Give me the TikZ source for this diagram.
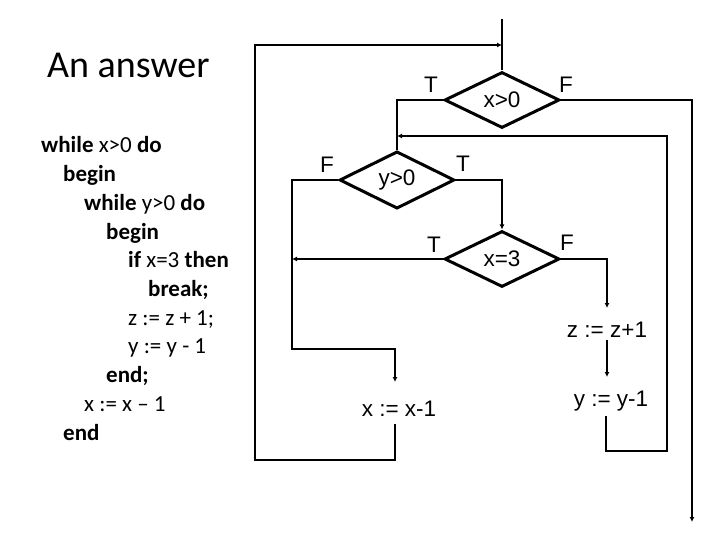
\documentclass[tikz,border=0pt]{standalone}
\usepackage{fontspec}
\setmainfont{Carlito}
\newfontfamily\lab{Liberation Sans}
\usetikzlibrary{shapes.geometric,arrows.meta}
\tikzset{
  dia/.style={diamond, draw, line width=3pt, inner sep=0pt, minimum width=115pt, minimum height=56pt, font=\lab\fontsize{22.5}{27}\selectfont},
  lbl/.style={font=\lab\fontsize{22.5}{27}\selectfont, inner sep=0pt, anchor=base},
  code/.style={font=\fontsize{23}{28}\selectfont, inner sep=0pt, anchor=base west},
  conn/.style={line width=1.8pt},
  arr/.style={conn, -{Latex[length=5pt,width=5pt]}},
}
\begin{document}
\begin{tikzpicture}[x=1pt,y=-1pt]
\useasboundingbox (0,0) rectangle (720,540);
% title
\node[code, font=\fontsize{38}{44}\selectfont] (title) at (47,78) {An answer};
% code
\node[code] (c1) at (41,153) {\textbf{while} x>0 \textbf{do}};
\node[code] (c2) at (63,181.7) {\textbf{begin}};
\node[code] (c3) at (84,210.4) {\textbf{while} y>0 \textbf{do}};
\node[code] (c4) at (106,239.1) {\textbf{begin}};
\node[code] (c5) at (128,267.8) {\textbf{if} x=3 \textbf{then}};
\node[code] (c6) at (148,296.5) {\textbf{break;}};
\node[code] (c7) at (128,325.2) {z := z + 1;};
\node[code] (c8) at (128,353.9) {y := y - 1};
\node[code] (c9) at (106,382.6) {\textbf{end;}};
\node[code] (c10) at (84,411.3) {x := x – 1};
\node[code] (c11) at (63,440) {\textbf{end}};
% diamonds
\node[dia] (d1) at (502,100) {x>0};
\node[dia] (d2) at (397,180) {y>0};
\node[dia] (d3) at (502,259) {x=3};
% statements
\node[lbl] (s1) at (399,416) {x := x-1};
\node[lbl] (s2) at (607,337) {z := z+1};
\node[lbl] (s3) at (611,406) {y := y-1};
% branch labels
\node[lbl] (l1) at (431,93) {T};
\node[lbl] (l2) at (566,93) {F};
\node[lbl] (l3) at (327,173) {F};
\node[lbl] (l4) at (463,172) {T};
\node[lbl] (l5) at (434,252) {T};
\node[lbl] (l6) at (567,251) {F};
% coordinates
\coordinate (top) at (502,19);
\coordinate (loopin) at (502,45);
\coordinate (exit) at (692,522);
\coordinate (yin) at (397,136);
\coordinate (brk) at (292,259);
\coordinate (s1in) at (395,382);
\coordinate (s1out) at (395,424);
\coordinate (s2in) at (607,308);
\coordinate (s2out) at (607,340);
\coordinate (s3in) at (607,377);
\coordinate (s3out) at (606,416);
% connectors
\draw[conn] (top) -- (d1.north);
\draw[conn] (d1.west) -| (d2.north);
\draw[arr] (d1.east) -| (exit);
\draw[arr] (d2.east) -| (d3.north);
\draw[arr] (d2.west) -| (292,349) -| (s1in);
\draw[arr] (s1out) |- (255,460) |- (loopin);
\draw[arr] (d3.west) -- (brk);
\draw[arr] (d3.east) -| (s2in);
\draw[arr] (s2out) -- (s3in);
\draw[arr] (s3out) |- (667,451) |- (yin);
\end{tikzpicture}
\end{document}
